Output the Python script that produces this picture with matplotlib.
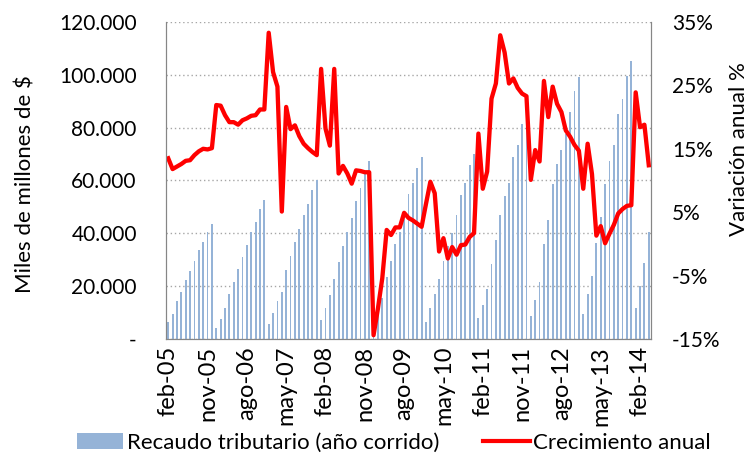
import matplotlib
matplotlib.use('Agg')
import matplotlib.pyplot as plt
from matplotlib.patches import Patch
from matplotlib.lines import Line2D
from matplotlib.ticker import FuncFormatter, MultipleLocator

plt.rcParams['font.family'] = ['Lato', 'DejaVu Sans']

meses = ['ene', 'feb', 'mar', 'abr', 'may', 'jun', 'jul', 'ago', 'sep', 'oct', 'nov', 'dic']
fechas = [f'{m}-{a % 100:02d}' for a in range(2005, 2015) for m in meses][1:112]  # feb-05 .. abr-14

# recaudo acumulado año corrido, miles de millones de $
recaudo = [
    6400, 9600, 14200, 17900, 22400, 25900, 29700, 33800, 36800, 40600, 43600,
    4200, 7700, 11700, 17100, 21400, 26500, 31000, 35500, 40600, 44300, 49100, 52700,
    5800, 9800, 14200, 17900, 26200, 31500, 36800, 41800, 47000, 51200, 56400, 60200,
    7300, 11900, 16600, 22900, 29000, 35300, 40600, 45800, 52300, 57000, 62300, 67200,
    6800, 11200, 15600, 23400, 29500, 36100, 40600, 48200, 54700, 59000, 64800, 68800,
    6600, 11600, 17100, 22900, 29700, 35200, 40000, 47100, 54500, 59000, 65800, 70100,
    7800, 12900, 18900, 28500, 37300, 46900, 54100, 59000, 68800, 73600, 81300, 86500,
    8600, 14700, 21700, 35800, 45000, 58600, 66200, 71600, 77500, 86000, 93800, 99100,
    9300, 17100, 23800, 36200, 46100, 58600, 67300, 73600, 85100, 90800, 99600, 105400,
    11600, 20200, 28600, 40600,
]

# crecimiento anual, %
crecimiento = [
    13.5, 11.8, 12.2, 12.6, 13.1, 13.2, 14.0, 14.6, 15.0, 14.9, 15.1,
    21.9, 21.8, 20.3, 19.2, 19.2, 18.8, 19.5, 19.8, 20.2, 20.3, 21.2, 21.2,
    33.3, 27.1, 24.8, 5.1, 21.6, 18.1, 18.7, 17.0, 15.8, 15.1, 14.5, 14.0,
    27.6, 18.2, 15.5, 27.6, 11.1, 12.3, 11.1, 9.5, 11.6, 11.5, 11.3, 11.3,
    -14.4, -10.2, -5.4, 2.2, 1.4, 2.6, 2.6, 4.9, 4.1, 3.7, 3.2, 2.7,
    6.3, 9.8, 8.0, -1.2, 0.9, -2.3, -0.5, -1.7, -0.2, -0.1, 1.1, 1.7,
    17.4, 8.7, 11.4, 22.9, 25.3, 32.9, 30.2, 25.3, 26.1, 24.6, 23.7, 23.3,
    10.1, 14.8, 13.0, 25.7, 20.0, 24.8, 22.1, 20.8, 17.9, 16.9, 15.6, 14.7,
    8.7, 15.8, 11.0, 1.3, 2.8, 0.1, 1.6, 3.0, 4.8, 5.5, 6.0, 6.1,
    23.9, 18.4, 18.8, 12.4,
]

x = list(range(len(fechas)))
gris = '#868686'

fig = plt.figure(figsize=(7.53, 4.57), dpi=100)
ax = fig.add_axes([0.2205, 0.2582, 0.644, 0.6937])
ax2 = ax.twinx()

ax.bar(x, recaudo, width=0.42, color='#95B3D7', zorder=2)
ax2.plot(x, crecimiento, color='#FF0000', lw=3.1, solid_joinstyle='round')

ax.set_xlim(-0.5, len(x) - 0.5)
ax.set_ylim(0, 120000)
ax.yaxis.set_major_locator(MultipleLocator(20000))
ax.yaxis.set_major_formatter(FuncFormatter(
    lambda v, p: '-' if v == 0 else f'{v:,.0f}'.replace(',', '.')))
ax.yaxis.grid(True, linestyle=(0, (1, 2)), color='#a6a6a6', lw=1, zorder=0)
ax.set_axisbelow(True)

ax2.set_ylim(-15, 35)
ax2.set_yticks([-15, -5, 5, 15, 25, 35])
ax2.yaxis.set_major_formatter(FuncFormatter(lambda v, p: f'{v:.0f}%'))

ax.set_xticks(x[::9])
ax.set_xticklabels(fechas[::9], rotation=90)

for a in (ax, ax2):
    a.tick_params(length=0, labelsize=15, colors='black')
    a.spines['top'].set_visible(False)
    for s in ('left', 'right', 'bottom'):
        a.spines[s].set_color(gris)
ax.tick_params(axis='y', pad=21)
ax.tick_params(axis='x', pad=5, labelsize=17)
ax2.tick_params(axis='y', pad=15)

ax.set_ylabel('Miles de millones de $', fontsize=16)
ax.yaxis.set_label_coords(-0.27, 0.49)
ax2.set_ylabel('Variación anual %', fontsize=16)
ax2.yaxis.set_label_coords(1.161, 0.6)

handles = [Patch(facecolor='#95B3D7'), Line2D([], [], color='#FF0000', lw=3)]
fig.legend(handles, ['Recaudo tributario (año corrido)', 'Crecimiento anual'],
           loc='lower center', bbox_to_anchor=(0.523, -0.035), ncol=2, frameon=False,
           fontsize=16, handlelength=2.1, handleheight=0.75, handletextpad=0.15,
           columnspacing=2.0)

fig.savefig('out.png', dpi=100)
